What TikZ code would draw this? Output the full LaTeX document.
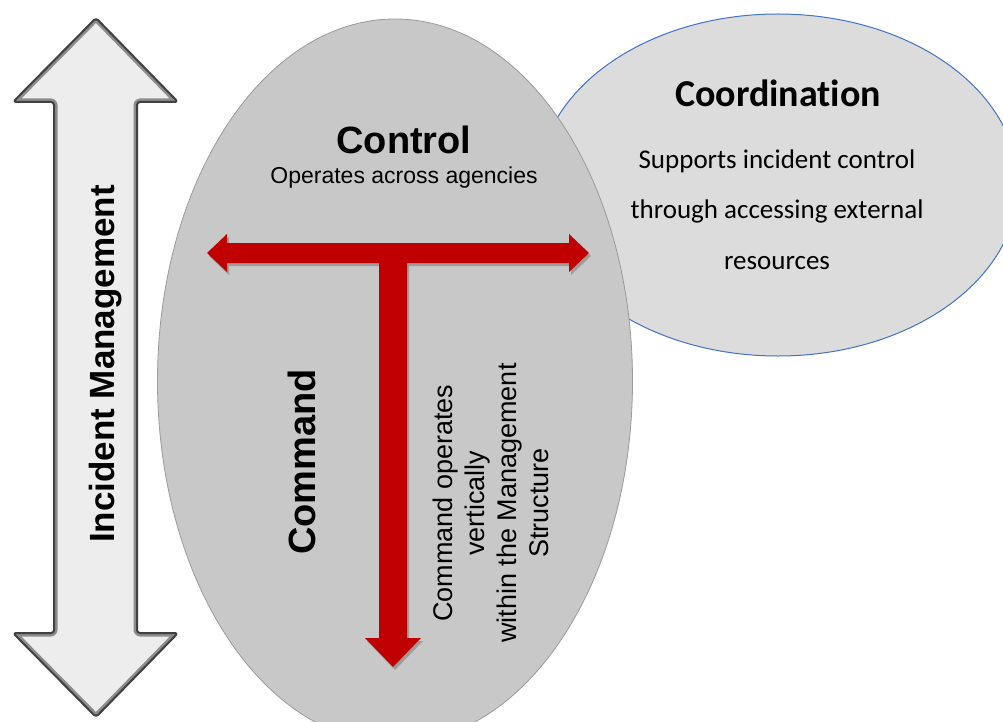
\documentclass[tikz,border=0pt]{standalone}
\usepackage{fontspec}
\setmainfont{Liberation Sans}
\newfontfamily\calibrifont[Ligatures=NoCommon]{Carlito}

\definecolor{ctrlgray}{HTML}{C8C8C8}
\definecolor{ctrledge}{HTML}{9A9A9A}
\definecolor{coordgray}{HTML}{DCDCDC}
\definecolor{coordblue}{HTML}{4472C4}
\definecolor{mgmtfill}{HTML}{EDEDED}
\definecolor{mgmtband}{HTML}{8C8C8C}
\definecolor{mgmtline}{HTML}{404040}
\definecolor{cmdred}{HTML}{C00000}

\tikzset{
  every node/.style={inner sep=0pt},
  coordellipse/.style={fill=coordgray, draw=coordblue, line width=1pt},
  ctrlellipse/.style={fill=ctrlgray, draw=ctrledge, line width=0.8pt},
  redarrow/.style={fill=cmdred, draw=none},
  redshadow/.style={fill=black, opacity=0.22, draw=none},
  bigtitle/.style={font=\bfseries\fontsize{38}{44}\selectfont},
  smalltext/.style={font=\fontsize{23}{28}\selectfont},
  coordtitle/.style={font=\calibrifont\bfseries\fontsize{38}{44}\selectfont},
  coordtext/.style={font=\calibrifont\fontsize{27}{32}\selectfont},
  cmdtext/.style={font=\fontsize{27}{32}\selectfont, rotate=90, anchor=base}
}

\begin{document}
\begin{tikzpicture}[x=1pt,y=-1pt]
\useasboundingbox (0,0) rectangle (1003,722);
\clip (0,0) rectangle (1003,722);

% ellipses, coordination behind control
\draw[coordellipse] (778,185) ellipse [x radius=240, y radius=171];
\draw[ctrlellipse] (395,381) ellipse [x radius=237.5, y radius=362];

% incident management double arrow
\begin{scope}
\clip[rounded corners=3pt] (96,18) -- (178,102) -- (137,102) -- (137,633) -- (178,633) -- (96,717)
  -- (13,633) -- (54,633) -- (54,102) -- (13,102) -- cycle;
\fill[mgmtfill] (0,0) rectangle (200,722);
\draw[mgmtband, line width=7pt, line join=round, rounded corners=3pt] (96,18) -- (178,102) -- (137,102)
  -- (137,633) -- (178,633) -- (96,717) -- (13,633) -- (54,633) -- (54,102)
  -- (13,102) -- cycle;
\end{scope}
\draw[mgmtline, line width=2pt, line join=round, rounded corners=3pt] (96,18) -- (178,102) -- (137,102)
  -- (137,633) -- (178,633) -- (96,717) -- (13,633) -- (54,633) -- (54,102)
  -- (13,102) -- cycle;

% red arrows
\fill[redshadow, shift={(2,3)}] (207,253) -- (227,234) -- (227,243) -- (569,243)
  -- (569,234) -- (589,253) -- (569,272) -- (569,263) -- (227,263) -- (227,272) -- cycle;
\fill[redshadow, shift={(2,3)}] (379,263) -- (407,263) -- (407,638) -- (421,638)
  -- (393,667) -- (365,638) -- (379,638) -- cycle;
\fill[redarrow] (207,253) -- (227,234) -- (227,243) -- (569,243) -- (569,234)
  -- (589,253) -- (569,272) -- (569,263) -- (227,263) -- (227,272) -- cycle;
\fill[redarrow] (379,262) -- (407,262) -- (407,638) -- (421,638) -- (393,667)
  -- (365,638) -- (379,638) -- cycle;

% texts
\node[bigtitle, rotate=90, anchor=base, font=\bfseries\fontsize{35}{40}\selectfont] (mgmt) at (114,364) {Incident Management};
\node[bigtitle, anchor=base] (control) at (404,154) {Control};
\node[smalltext, anchor=base] (controltxt) at (404,183) {Operates across agencies};
\node[bigtitle, rotate=90, anchor=base] (command) at (315,462) {Command};
\node[cmdtext] (cmdline1) at (452,503) {Command operates};
\node[cmdtext] (cmdline2) at (484,503) {vertically};
\node[cmdtext] (cmdline3) at (516,503) {within the Management};
\node[cmdtext] (cmdline4) at (548,503) {Structure};
\node[coordtitle, anchor=base] (coord) at (778,107) {Coordination};
\node[coordtext, anchor=base] (coordline1) at (777,168) {Supports incident control};
\node[coordtext, anchor=base] (coordline2) at (777,218) {through accessing external};
\node[coordtext, anchor=base] (coordline3) at (777,269) {resources};
\end{tikzpicture}
\end{document}
